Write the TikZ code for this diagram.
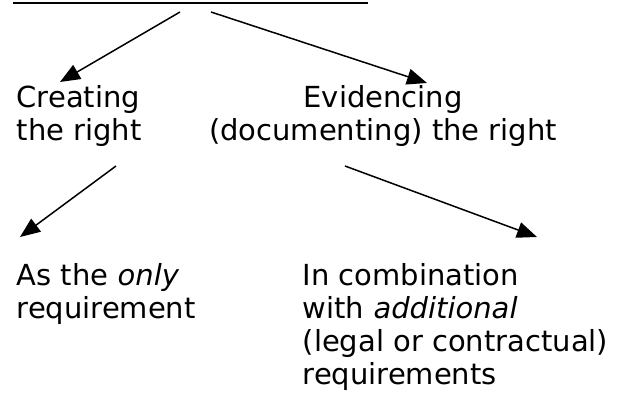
\documentclass[tikz,border=0pt]{standalone}
\usepackage{fontspec}
\setmainfont{DejaVu Sans}
\usetikzlibrary{arrows.meta}
\tikzset{every picture/.style={line width=1.5pt}}
\tikzstyle{lbl}=[inner sep=0pt,font=\fontsize{29}{33}\selectfont]

\begin{document}
\begin{tikzpicture}
  [x=1pt,y=-1pt,>={Triangle[length=20pt,width=16pt]}]
\useasboundingbox (0,0) rectangle (620,396);
% underline of the title
\draw[line width=2pt] (13,3) -- (368,3);
% base anchor = baseline of the last line
\node[lbl,align=left,anchor=base west] (cr) at (16,140) {Creating\\the right};
\node[lbl,align=center,anchor=base] (ev) at (383,140) {Evidencing\\(documenting) the right};
\node[lbl,align=left,anchor=base west] (on) at (16,318) {As the \textit{only}\\requirement};
\node[lbl,align=left,anchor=base west] (co) at (302,384) {In combination\\with \textit{additional}\\(legal or contractual)\\requirements};
\coordinate (t1) at (180,12);
\coordinate (t2) at (211,12);
\coordinate (c1) at (60,82);
\coordinate (e1) at (427,83);
\coordinate (c2) at (116,166);
\coordinate (o1) at (20,237);
\coordinate (e2) at (345,166);
\coordinate (a1) at (537,237);
\path[->]
(t1) edge (c1)
(t2) edge (e1)
(c2) edge (o1)
(e2) edge (a1);
\end{tikzpicture}
\end{document}
